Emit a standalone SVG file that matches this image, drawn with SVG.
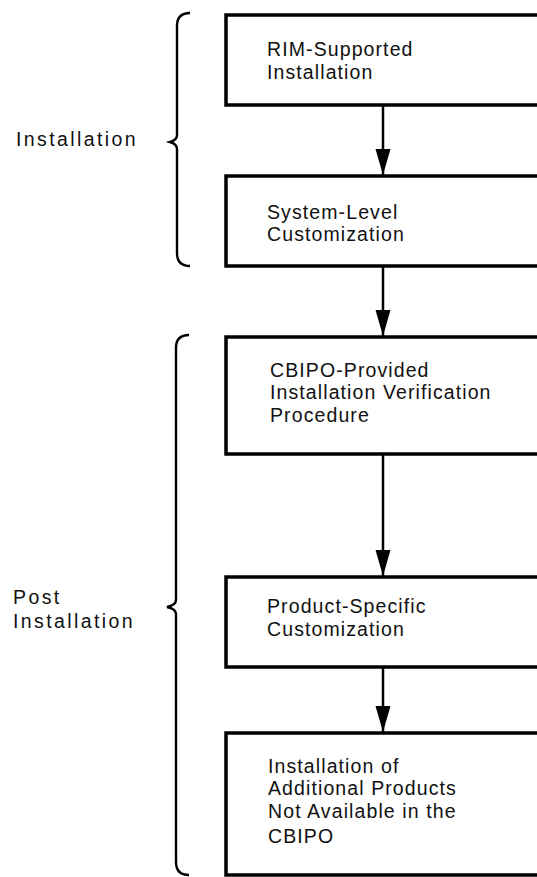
<svg xmlns="http://www.w3.org/2000/svg" width="537" height="877" viewBox="0 0 537 877">
<style>
.box{fill:#fff;stroke:#000;stroke-width:3.5}
.t{font-family:"Liberation Sans",Arial,sans-serif;font-size:19.5px;fill:#111;letter-spacing:1.1px}
.lbl{font-family:"Liberation Sans",Arial,sans-serif;font-size:19.5px;fill:#111;letter-spacing:2.4px}
.brace{fill:none;stroke:#000;stroke-width:2.4;stroke-linejoin:miter}
.conn{stroke:#000;stroke-width:2.5;fill:none}
</style>
<defs>
<marker id="ah" markerUnits="userSpaceOnUse" markerWidth="27" markerHeight="16" refX="26" refY="7.5" orient="auto" viewBox="0 0 27 16">
<path d="M0,0 L26,7.5 L0,15 z" fill="#000"/>
</marker>
</defs>
<g id="label-installation"><text class="lbl" x="16" y="146">Installation</text></g>
<g id="label-post"><text class="lbl" x="13" y="604">Post</text><text class="lbl" x="13" y="628">Installation</text></g>
<g id="brace-installation"><path class="brace" d="M190,13 Q177,13 177,26 L177,135 Q177,140 170,142 Q177,144 177,149 L177,253 Q177,266 190,266"/></g>
<g id="brace-post"><path class="brace" d="M189,335 Q176,335 176,348 L176,600 Q176,605 167,607 Q176,609 176,614 L176,862 Q176,875 189,875"/></g>
<g id="n1"><rect class="box" x="226" y="15" width="340" height="90"/><text class="t" x="267" y="56">RIM-Supported</text><text class="t" x="267" y="79">Installation</text></g>
<g id="n2"><rect class="box" x="226" y="176" width="340" height="90"/><text class="t" x="267" y="219">System-Level</text><text class="t" x="267" y="241">Customization</text></g>
<g id="n3"><rect class="box" x="226" y="337" width="340" height="117"/><text class="t" x="270" y="377">CBIPO-Provided</text><text class="t" x="270" y="399">Installation Verification</text><text class="t" x="270" y="422">Procedure</text></g>
<g id="n4"><rect class="box" x="226" y="577" width="340" height="90"/><text class="t" x="267" y="613">Product-Specific</text><text class="t" x="267" y="636">Customization</text></g>
<g id="n5"><rect class="box" x="226" y="733" width="340" height="142"/><text class="t" x="268" y="773">Installation of</text><text class="t" x="268" y="795">Additional Products</text><text class="t" x="268" y="818">Not Available in the</text><text class="t" x="268" y="843">CBIPO</text></g>
<g id="connectors">
<line class="conn" x1="383" y1="106" x2="383" y2="175" marker-end="url(#ah)"/>
<line class="conn" x1="383" y1="267" x2="383" y2="336" marker-end="url(#ah)"/>
<line class="conn" x1="383" y1="455" x2="383" y2="576" marker-end="url(#ah)"/>
<line class="conn" x1="383" y1="668" x2="383" y2="732" marker-end="url(#ah)"/>
</g>
</svg>
